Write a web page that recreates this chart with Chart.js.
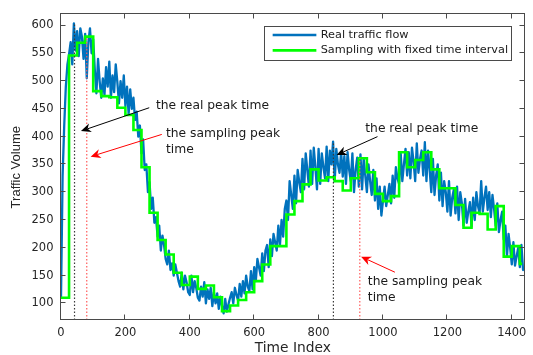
<!DOCTYPE html>
<html><head><meta charset="utf-8">
<script src="https://cdn.jsdelivr.net/npm/chart.js@4.4.0/dist/chart.umd.min.js"></script>
<style>html,body{margin:0;padding:0;background:#fff;}#wrap{width:533px;height:355px;}</style>
</head><body><div id="wrap"><canvas id="c" width="533" height="355"></canvas></div>
<script>
// ---- data ----
const realStep = 5; // one value every 5 time indices
const realFlow = [
110,330,420,490,530,
548,570,530,604,555,590,545,595,580,540,585,505,570,595,550,575,
520,478,540,500,470,505,475,525,490,535,470,510,480,530,498,460,500,470,510,455,490,440,485,450,470,430,445,400,420,370,
395,340,350,300,318,270,290,245,255,220,240,195,222,205,180,170,195,160,172,150,170,155,140,130,155,125,150,138,120,115,150,120,140,128,110,105,130,112,138,100,125,108,128,95,120,100,118,90,112,95,
82,108,85,98,110,120,100,128,115,105,135,112,140,118,150,130,122,158,125,165,140,180,165,150,190,158,195,205,165,215,185,225,210,195,240,205,250,220,270,285,
250,320,295,270,330,280,340,318,300,360,305,370,340,310,375,315,380,345,305,378,315,370,345,325,382,320,375,350,391,320,378,350,335,372,328,365,315,372,340,320,370,300,340,362,310,368,305,360,330,300,350,320,295,340,285,325,270,310,258,285,
310,275,295,315,280,330,290,345,325,315,370,320,350,378,330,372,325,380,355,320,388,335,360,375,330,390,320,375,340,300,360,295,330,350,285,335,275,320,300,265,320,258,290,305,262,310,250,300,280,240,288,245,265,282,238,290,250,300,275,262,320,265,290,310,268,300,255,295,270,240,280,228,250,265,215,240,185,225,200,170,210,168,185,200,165,205,160,165
];
const sampleTimes = [0,25,50,75,100,125,150,175,200,225,250,275,300,325,350,375,400,425,450,475,500,525,550,575,600,625,650,675,700,725,750,775,800,825,850,875,900,925,950,975,1000,1025,1050,1075,1100,1125,1150,1175,1200,1225,1250,1275,1300,1325,1350,1375,1400,1425,1432];
const sampledFlow = [110,546,569,580,482,473,471,452,439,412,345,263,214,188,155,133,148,126,132,111,86,96,106,120,140,170,203,203,260,284,314,341,321,327,320,303,325,361,336,297,284,293,372,345,358,372,341,307,307,277,236,263,261,233,275,184,203,171,171];
const realPeakTimes = [42, 846];
const realPeakValues = [605, 391];
const samplingPeakTimes = [80, 928];
const samplingPeakValues = [580, 361];
const xTicks = [0,200,400,600,800,1000,1200,1400];
const yTicks = [100,150,200,250,300,350,400,450,500,550,600];
const seriesNames = ['Real traffic flow','Sampling with fixed time interval'];
const noteTexts = [['the real peak time'],['the sampling peak','time'],['the real peak time'],['the sampling peak','time']];

// ---- annotation placement (data coordinates) ----
const notes = [
  {text:noteTexts[0], at:[295,456], from:[274,452], to:[62,410], color:'#000000'},
  {text:noteTexts[1], at:[326,406], from:[313,404], to:[92,364], color:'#ff0000'},
  {text:noteTexts[2], at:[945,415], from:[983,400], to:[856,367], color:'#000000'},
  {text:noteTexts[3], at:[953,138], from:[1037,156], to:[932,184], color:'#ff0000'}
];
const X_MIN = 0, X_MAX = 1440, Y_MIN = 70, Y_MAX = 620;
const BLUE = '#0072BD', GREEN = '#00FF00';

const datasets = [
  {label:seriesNames[0], data:realFlow.map((v,i)=>({x:i*realStep,y:v})), borderColor:BLUE, borderWidth:2.3,
   pointRadius:0, tension:0, borderJoinStyle:'round', order:3},
  {label:seriesNames[1], data:sampleTimes.map((t,i)=>({x:t,y:sampledFlow[i]})), borderColor:GREEN, borderWidth:2.6,
   pointRadius:0, stepped:true, order:2}
];
realPeakTimes.forEach((t,i)=>datasets.push({label:'real peak', data:[{x:t,y:Y_MIN},{x:t,y:realPeakValues[i]}],
  borderColor:'#3a3a3a', borderWidth:1.2, borderDash:[1.5,2], pointRadius:0, order:1}));
samplingPeakTimes.forEach((t,i)=>datasets.push({label:'sampling peak', data:[{x:t,y:Y_MIN},{x:t,y:samplingPeakValues[i]}],
  borderColor:'#ff5a5a', borderWidth:1.2, borderDash:[1.5,2], pointRadius:0, order:1}));

function arrow(ctx,x1,y1,x2,y2,color){
  const ang=Math.atan2(y2-y1,x2-x1), c=Math.cos(ang), s=Math.sin(ang);
  const L=10, W=4.5, N=7;
  const bx=x2-c*N, by=y2-s*N, hx=x2-c*L, hy=y2-s*L;
  ctx.strokeStyle=color; ctx.fillStyle=color; ctx.lineWidth=1;
  ctx.beginPath(); ctx.moveTo(x1,y1); ctx.lineTo(bx,by); ctx.stroke();
  ctx.beginPath(); ctx.moveTo(x2,y2); ctx.lineTo(hx-s*W,hy+c*W); ctx.lineTo(bx,by); ctx.lineTo(hx+s*W,hy-c*W); ctx.closePath(); ctx.fill();
}

const framePlugin = {
  id:'frame',
  afterDraw(chart){
    const {ctx, chartArea:a, scales:{x,y}} = chart;
    ctx.save();
    const L=Math.round(a.left)-0.5, R=Math.round(a.right)-0.5, T=Math.round(a.top)-0.5, B=Math.round(a.bottom)-0.5;
    ctx.strokeStyle='#4a4a4a'; ctx.lineWidth=1;
    ctx.strokeRect(L,T,R-L,B-T);
    ctx.beginPath();
    xTicks.forEach(v=>{const p=Math.round(x.getPixelForValue(v))-0.5; ctx.moveTo(p,B); ctx.lineTo(p,B-5); ctx.moveTo(p,T); ctx.lineTo(p,T+5);});
    yTicks.forEach(v=>{const p=Math.round(y.getPixelForValue(v))-0.5; ctx.moveTo(L,p); ctx.lineTo(L+5,p); ctx.moveTo(R,p); ctx.lineTo(R-5,p);});
    ctx.stroke();
    notes.forEach(n=>{
      arrow(ctx, x.getPixelForValue(n.from[0]), y.getPixelForValue(n.from[1]), x.getPixelForValue(n.to[0]), y.getPixelForValue(n.to[1]), n.color);
      ctx.fillStyle='#1a1a1a'; ctx.font='12.3px "DejaVu Sans"'; ctx.textBaseline='middle'; ctx.textAlign='left';
      n.text.forEach((t,i)=>ctx.fillText(t, x.getPixelForValue(n.at[0]), y.getPixelForValue(n.at[1])+i*16));
    });
    const lx=a.right-260.7, ly=a.top+11.6, lw=247.4, lh=34;
    ctx.fillStyle='#ffffff'; ctx.fillRect(lx,ly,lw,lh);
    ctx.strokeStyle='#4a4a4a'; ctx.lineWidth=1; ctx.strokeRect(Math.round(lx)+0.5,Math.round(ly)+0.5,Math.round(lw),Math.round(lh));
    [BLUE,GREEN].forEach((col,i)=>{
      const yy=ly+9+i*15.4;
      ctx.strokeStyle=col; ctx.lineWidth=2.6; ctx.beginPath(); ctx.moveTo(lx+8.7,yy); ctx.lineTo(lx+52.4,yy); ctx.stroke();
      ctx.fillStyle='#1a1a1a'; ctx.font='11.3px "DejaVu Sans"'; ctx.textBaseline='middle'; ctx.textAlign='left';
      ctx.fillText(seriesNames[i], lx+56.7, yy);
    });
    ctx.restore();
  }
};

new Chart(document.getElementById('c'), {
  type:'line',
  data:{datasets},
  options:{
    responsive:false, animation:false,
    layout:{padding:{top:12,right:3,left:0,bottom:0}},
    plugins:{legend:{display:false}, tooltip:{enabled:false}},
    scales:{
      x:{type:'linear', min:X_MIN, max:X_MAX,
         afterBuildTicks:s=>{s.ticks=xTicks.map(v=>({value:v}));},
         afterFit:s=>{s.height=35;},
         grid:{display:false, drawTicks:false}, border:{display:false},
         ticks:{padding:6.5, color:'#262626', font:{family:'DejaVu Sans', size:11.5}, maxRotation:0, callback:v=>String(v)},
         title:{display:true, text:'Time Index', color:'#262626', font:{family:'DejaVu Sans', size:13.8, lineHeight:1}, padding:{top:0,bottom:0}}},
      y:{type:'linear', min:Y_MIN, max:Y_MAX,
         afterBuildTicks:s=>{s.ticks=yTicks.map(v=>({value:v}));},
         afterFit:s=>{s.width=61;},
         grid:{display:false, drawTicks:false}, border:{display:false},
         ticks:{padding:7.5, color:'#262626', font:{family:'DejaVu Sans', size:11.5}, callback:v=>String(v)},
         title:{display:true, text:'Traffic Volume', color:'#262626', font:{family:'Liberation Sans', size:13, lineHeight:1.2}, padding:{top:9,bottom:0}}}
    }
  },
  plugins:[framePlugin]
});
</script></body></html>
